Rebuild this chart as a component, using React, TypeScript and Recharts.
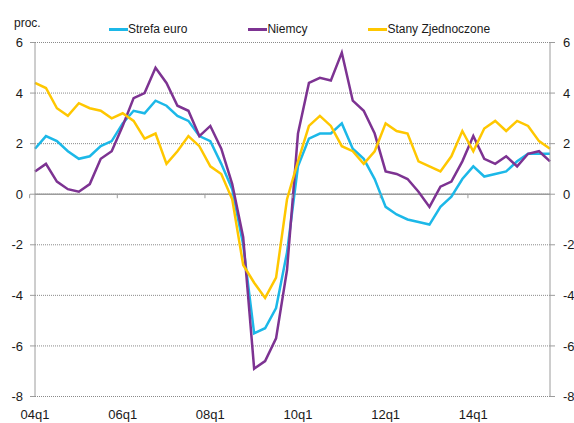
import { LineChart, Line, XAxis, YAxis, CartesianGrid, ReferenceLine } from 'recharts';

const YEARS = ['04', '05', '06', '07', '08', '09', '10', '11', '12', '13', '14', '15'];
const QUARTERS = ['q1', 'q2', 'q3', 'q4'];
const categories = YEARS.flatMap((y) => QUARTERS.map((q) => `${y}${q}`));

const strefaEuro = [
  1.8, 2.3, 2.1, 1.7, 1.4, 1.5, 1.9, 2.1, 2.8, 3.3, 3.2, 3.7,
  3.5, 3.1, 2.9, 2.3, 2.1, 1.2, 0.2, -2.0, -5.5, -5.3, -4.5, -2.3,
  1.1, 2.2, 2.4, 2.4, 2.8, 1.8, 1.4, 0.6, -0.5, -0.8, -1.0, -1.1,
  -1.2, -0.5, -0.1, 0.6, 1.1, 0.7, 0.8, 0.9, 1.3, 1.6, 1.6, 1.6,
];
const niemcy = [
  0.9, 1.2, 0.5, 0.2, 0.1, 0.4, 1.4, 1.7, 2.7, 3.8, 4.0, 5.0,
  4.4, 3.5, 3.3, 2.3, 2.7, 1.8, 0.4, -1.7, -6.9, -6.6, -5.7, -3.0,
  2.4, 4.4, 4.6, 4.5, 5.6, 3.7, 3.3, 2.4, 0.9, 0.8, 0.6, 0.1,
  -0.5, 0.3, 0.5, 1.3, 2.3, 1.4, 1.2, 1.5, 1.1, 1.6, 1.7, 1.3,
];
const stanyZjednoczone = [
  4.4, 4.2, 3.4, 3.1, 3.6, 3.4, 3.3, 3.0, 3.2, 2.9, 2.2, 2.4,
  1.2, 1.7, 2.3, 1.9, 1.1, 0.8, -0.2, -2.8, -3.5, -4.1, -3.3, -0.2,
  1.3, 2.7, 3.1, 2.7, 1.9, 1.7, 1.2, 1.7, 2.8, 2.5, 2.4, 1.3,
  1.1, 0.9, 1.5, 2.5, 1.7, 2.6, 2.9, 2.5, 2.9, 2.7, 2.1, 1.8,
];
const Y_TICKS = [-8, -6, -4, -2, 0, 2, 4, 6];

const SERIES = [
  { key: 'euro', name: 'Strefa euro', color: '#1cb8e8' },
  { key: 'de', name: 'Niemcy', color: '#7d3392' },
  { key: 'us', name: 'Stany Zjednoczone', color: '#ffc700' },
];

const data = categories.map((c, i) => ({
  q: c,
  euro: strefaEuro[i],
  de: niemcy[i],
  us: stanyZjednoczone[i],
}));

const W = 574;
const H = 423;
const M = { top: 42.5, right: 0, bottom: 0, left: 0 };
const LEFT_W = 35;
const RIGHT_W = 24;
const X_H = 26.5;
const PLOT_H = H - M.top - X_H;
const PLOT_W = W - LEFT_W - RIGHT_W;
const ZERO_Y = M.top + (PLOT_H * 6) / 14;
const BAND = PLOT_W / categories.length;

const FONT = '"Liberation Sans", Arial, sans-serif';
const GRAY = '#9c9c9c';

// category label under the chart, plus the little tick on the zero line
function QuarterTick(props: any) {
  const { x, y, payload } = props;
  const bx = x - BAND / 2;
  return (
    <g>
      <line x1={bx} x2={bx} y1={ZERO_Y} y2={ZERO_Y + 4} stroke={GRAY} />
      <text x={x} y={y} dy="0.71em" textAnchor="middle" fontSize={13} fill="#1a1a1a" fontFamily={FONT}>
        {payload.value}
      </text>
    </g>
  );
}

export default function App() {
  const tick = { fontSize: 13, fill: '#1a1a1a', fontFamily: FONT };
  return (
    <div style={{ position: 'absolute', left: 0, top: 0, width: W, height: H, background: '#fff', fontFamily: FONT }}>
      <div style={{ position: 'absolute', left: 14, top: 16, fontSize: 12, lineHeight: '14px', color: '#1a1a1a' }}>
        proc.
      </div>
      <div style={{ position: 'absolute', left: 109, top: 22, display: 'flex', gap: 61, fontSize: 12, lineHeight: '14px', color: '#1a1a1a' }}>
        {SERIES.map((s) => (
          <div key={s.key} style={{ display: 'flex', alignItems: 'center' }}>
            <span style={{ display: 'inline-block', width: 19, height: 3, background: s.color }} />
            <span>{s.name}</span>
          </div>
        ))}
      </div>
      <LineChart width={W} height={H} data={data} margin={M}>
        <CartesianGrid vertical={false} stroke="#8a8a8a" strokeDasharray="1 1" yAxisId="left" />
        <XAxis
          dataKey="q"
          interval={7}
          height={X_H}
          axisLine={false}
          tickLine={false}
          tickSize={5}
          tickMargin={8}
          tick={<QuarterTick />}
        />
        <YAxis
          yAxisId="left"
          width={LEFT_W}
          domain={[-8, 6]}
          ticks={Y_TICKS}
          allowDataOverflow
          axisLine={{ stroke: GRAY }}
          tickLine={{ stroke: GRAY }}
          tickSize={5}
          tickMargin={7}
          tick={tick}
        />
        <YAxis
          yAxisId="right"
          orientation="right"
          width={RIGHT_W}
          domain={[-8, 6]}
          ticks={Y_TICKS}
          allowDataOverflow
          axisLine={{ stroke: GRAY }}
          tickLine={{ stroke: GRAY }}
          tickSize={5}
          tickMargin={8}
          tick={{ ...tick, textAnchor: 'start' }}
        />
        <ReferenceLine y={0} yAxisId="left" stroke={GRAY} strokeWidth={1.5} />
        {SERIES.map((s) => (
          <Line
            key={s.key}
            yAxisId="left"
            type="linear"
            dataKey={s.key}
            name={s.name}
            stroke={s.color}
            strokeWidth={2.5}
            dot={false}
            activeDot={false}
            isAnimationActive={false}
          />
        ))}
      </LineChart>
    </div>
  );
}
